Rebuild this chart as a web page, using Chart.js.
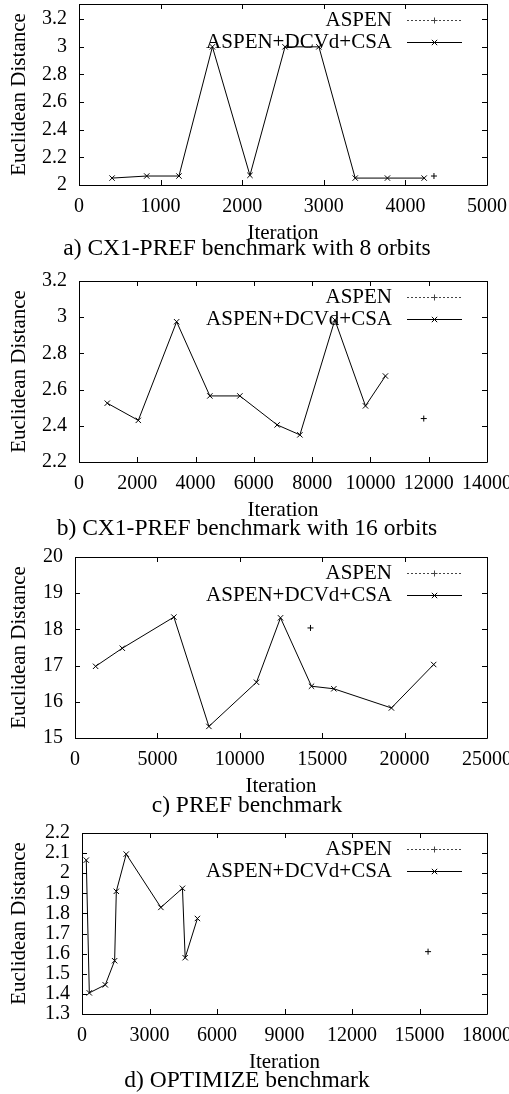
<!DOCTYPE html>
<html>
<head>
<meta charset="utf-8">
<script src="https://cdn.jsdelivr.net/npm/chart.js@4.4.1/dist/chart.umd.min.js"></script>
<style>
body { margin: 0; background: #fff; }
#wrap { position: relative; width: 509px; height: 1094px; overflow: hidden; }
canvas { position: absolute; left: 0; }
.cap { position: absolute; left: 0; width: 494px; text-align: center; font-family: "Liberation Serif"; font-size: 23.5px; line-height: 23.5px; color: #000; white-space: nowrap; }
</style>
</head>
<body>
<div id="wrap">
  <canvas id="c0" width="509" height="255"></canvas>
  <canvas id="c1" width="509" height="255"></canvas>
  <canvas id="c2" width="509" height="255"></canvas>
  <canvas id="c3" width="509" height="255"></canvas>
</div>
<script>
const seriesNames = ['ASPEN', 'ASPEN+DCVd+CSA']
const captions = [
  'a) CX1-PREF benchmark with 8 orbits',
  'b) CX1-PREF benchmark with 16 orbits',
  'c) PREF benchmark',
  'd) OPTIMIZE benchmark'
]

// a) CX1-PREF, 8 orbits
const aIter = [405, 830, 1225, 1635, 2095, 2525, 2940, 3385, 3780, 4230]
const aDist = [2.05, 2.065, 2.065, 3.0, 2.07, 3.0, 3.0, 2.05, 2.05, 2.05]
const aAspenIter = [4350]
const aAspenDist = [2.065]
const aXTicks = [0, 1000, 2000, 3000, 4000, 5000]
const aYTicks = [2, 2.2, 2.4, 2.6, 2.8, 3, 3.2]

// b) CX1-PREF, 16 orbits
const bIter = [970, 2035, 3350, 4490, 5520, 6800, 7580, 8780, 9830, 10515]
const bDist = [2.525, 2.43, 2.975, 2.565, 2.565, 2.405, 2.35, 2.985, 2.51, 2.675]
const bAspenIter = [11830]
const bAspenDist = [2.44]
const bXTicks = [0, 2000, 4000, 6000, 8000, 10000, 12000, 14000]
const bYTicks = [2.2, 2.4, 2.6, 2.8, 3, 3.2]

// c) PREF
const cIter = [1250, 2870, 6000, 8125, 11015, 12470, 14350, 15705, 19200, 21765]
const cDist = [16.98, 17.48, 18.34, 15.32, 16.54, 18.32, 16.43, 16.36, 15.83, 17.03]
const cAspenIter = [14290]
const cAspenDist = [18.04]
const cXTicks = [0, 5000, 10000, 15000, 20000, 25000]
const cYTicks = [15, 16, 17, 18, 19, 20]

// d) OPTIMIZE
const dIter = [190, 325, 1035, 1450, 1525, 1965, 3505, 4465, 4585, 5130]
const dDist = [2.065, 1.405, 1.445, 1.565, 1.91, 2.095, 1.83, 1.925, 1.58, 1.775]
const dAspenIter = [15380]
const dAspenDist = [1.61]
const dXTicks = [0, 3000, 6000, 9000, 12000, 15000, 18000]
const dYTicks = [1.3, 1.4, 1.5, 1.6, 1.7, 1.8, 1.9, 2, 2.1, 2.2]

const padTop = 14

const panels = [
  { id: 'c0', plotTop: 4,   plotLeft: 79, xMax: 5000,  yMin: 2,   yMax: 3.31, xTicks: aXTicks, yTicks: aYTicks,
    iter: aIter, dist: aDist, aspenIter: aAspenIter, aspenDist: aAspenDist, capBase: 256 },
  { id: 'c1', plotTop: 281, plotLeft: 79, xMax: 14000, yMin: 2.2, yMax: 3.2, xTicks: bXTicks, yTicks: bYTicks,
    iter: bIter, dist: bDist, aspenIter: bAspenIter, aspenDist: bAspenDist, capBase: 536 },
  { id: 'c2', plotTop: 557, plotLeft: 75, xMax: 25000, yMin: 15,  yMax: 20,  xTicks: cXTicks, yTicks: cYTicks,
    iter: cIter, dist: cDist, aspenIter: cAspenIter, aspenDist: cAspenDist, capBase: 813 },
  { id: 'c3', plotTop: 833, plotLeft: 82, xMax: 18000, yMin: 1.3, yMax: 2.2, xTicks: dXTicks, yTicks: dYTicks,
    iter: dIter, dist: dDist, aspenIter: dAspenIter, aspenDist: dAspenDist, capBase: 1088 }
]

const serif = 'Liberation Serif'

function pts(xs, ys) {
  return xs.map((x, i) => ({ x: x, y: ys[i] }))
}

// gnuplot style frame with inward ticks on all four sides
const frame = {
  id: 'frame',
  afterDatasetsDraw(chart) {
    const ctx = chart.ctx
    const a = chart.chartArea
    const xs = chart.scales.x, ys = chart.scales.y
    const tl = 5
    ctx.save()
    ctx.strokeStyle = '#000'
    ctx.lineWidth = 1
    ctx.beginPath()
    ctx.rect(Math.round(a.left) + 0.5, Math.round(a.top) + 0.5, Math.round(a.right - a.left), Math.round(a.bottom - a.top))
    xs.ticks.forEach(t => {
      const px = Math.round(xs.getPixelForValue(t.value)) + 0.5
      ctx.moveTo(px, a.bottom); ctx.lineTo(px, a.bottom - tl)
      ctx.moveTo(px, a.top); ctx.lineTo(px, a.top + tl)
    })
    ys.ticks.forEach(t => {
      const py = Math.round(ys.getPixelForValue(t.value)) + 0.5
      ctx.moveTo(a.left, py); ctx.lineTo(a.left + tl, py)
      ctx.moveTo(a.right, py); ctx.lineTo(a.right - tl, py)
    })
    ctx.stroke()
    ctx.restore()
  }
}

// key in the top right corner: text first, then sample line with marker
const gnuKey = {
  id: 'gnuKey',
  afterDatasetsDraw(chart) {
    const ctx = chart.ctx
    const a = chart.chartArea
    ctx.save()
    ctx.font = '21px "' + serif + '"'
    ctx.textAlign = 'right'
    ctx.textBaseline = 'middle'
    chart.data.datasets.forEach((ds, i) => {
      const y = Math.round(a.top + 16 + i * 21.5) + 0.5
      ctx.fillStyle = '#000'
      ctx.fillText(ds.label, a.right - 95, y)
      ctx.beginPath()
      ctx.strokeStyle = ds.borderColor
      ctx.lineWidth = 1
      ctx.setLineDash(ds.borderDash || [])
      ctx.moveTo(a.right - 80, y)
      ctx.lineTo(a.right - 25, y)
      ctx.stroke()
      ctx.setLineDash([])
      Chart.helpers.drawPoint(ctx, {
        pointStyle: ds.pointStyle, radius: ds.pointRadius, rotation: 0, borderWidth: 1
      }, a.right - 52.5, y)
    })
    ctx.restore()
  }
}

function makeChart(p) {
  const canvas = document.getElementById(p.id)
  canvas.style.top = (p.plotTop - padTop) + 'px'
  return new Chart(canvas, {
    type: 'scatter',
    data: {
      datasets: [
        {
          label: seriesNames[0],
          data: pts(p.aspenIter, p.aspenDist),
          showLine: true,
          borderColor: '#444',
          borderWidth: 1,
          borderDash: [2, 2],
          pointStyle: 'cross',
          pointRadius: 3,
          pointBorderWidth: 1,
          pointBorderColor: '#000',
          pointBackgroundColor: '#000'
        },
        {
          label: seriesNames[1],
          data: pts(p.iter, p.dist),
          showLine: true,
          borderColor: '#000',
          borderWidth: 1,
          pointStyle: 'crossRot',
          pointRadius: 3.8,
          pointBorderWidth: 1,
          pointBorderColor: '#000',
          pointBackgroundColor: '#000'
        }
      ]
    },
    options: {
      responsive: false,
      animation: false,
      devicePixelRatio: 1,
      layout: { padding: { top: padTop, right: 22, left: 0, bottom: 0 } },
      plugins: { legend: { display: false }, tooltip: { enabled: false } },
      scales: {
        x: {
          type: 'linear',
          min: 0,
          max: p.xMax,
          grid: { display: false, drawTicks: false },
          border: { display: false },
          afterBuildTicks: s => { s.ticks = p.xTicks.map(v => ({ value: v })) },
          afterFit: s => { s.height = 60; s.paddingLeft = 0; s.paddingRight = 0 },
          ticks: {
            callback: v => String(v),
            padding: 10,
            autoSkip: false,
            maxRotation: 0,
            color: '#000',
            font: { family: serif, size: 20 }
          },
          title: {
            display: true,
            text: 'Iteration',
            color: '#000',
            font: { family: serif, size: 21, lineHeight: 1 },
            padding: { top: 0, bottom: 1 }
          }
        },
        y: {
          type: 'linear',
          min: p.yMin,
          max: p.yMax,
          grid: { display: false, drawTicks: false },
          border: { display: false },
          afterBuildTicks: s => { s.ticks = p.yTicks.map(v => ({ value: v })) },
          afterFit: s => { s.width = p.plotLeft; s.paddingTop = 0; s.paddingBottom = 0 },
          ticks: {
            callback: v => String(v),
            padding: 12,
            autoSkip: false,
            color: '#000',
            font: { family: serif, size: 20 }
          },
          title: {
            display: true,
            text: 'Euclidean Distance',
            color: '#000',
            font: { family: serif, size: 21, lineHeight: 1 },
            padding: { top: 9, bottom: 0 }
          }
        }
      }
    },
    plugins: [frame, gnuKey]
  })
}

const wrap = document.getElementById('wrap')
panels.forEach((p, i) => {
  makeChart(p)
  const cap = document.createElement('div')
  cap.className = 'cap'
  cap.textContent = captions[i]
  cap.style.top = (p.capBase - 19.7) + 'px'
  wrap.appendChild(cap)
})
</script>
</body>
</html>
